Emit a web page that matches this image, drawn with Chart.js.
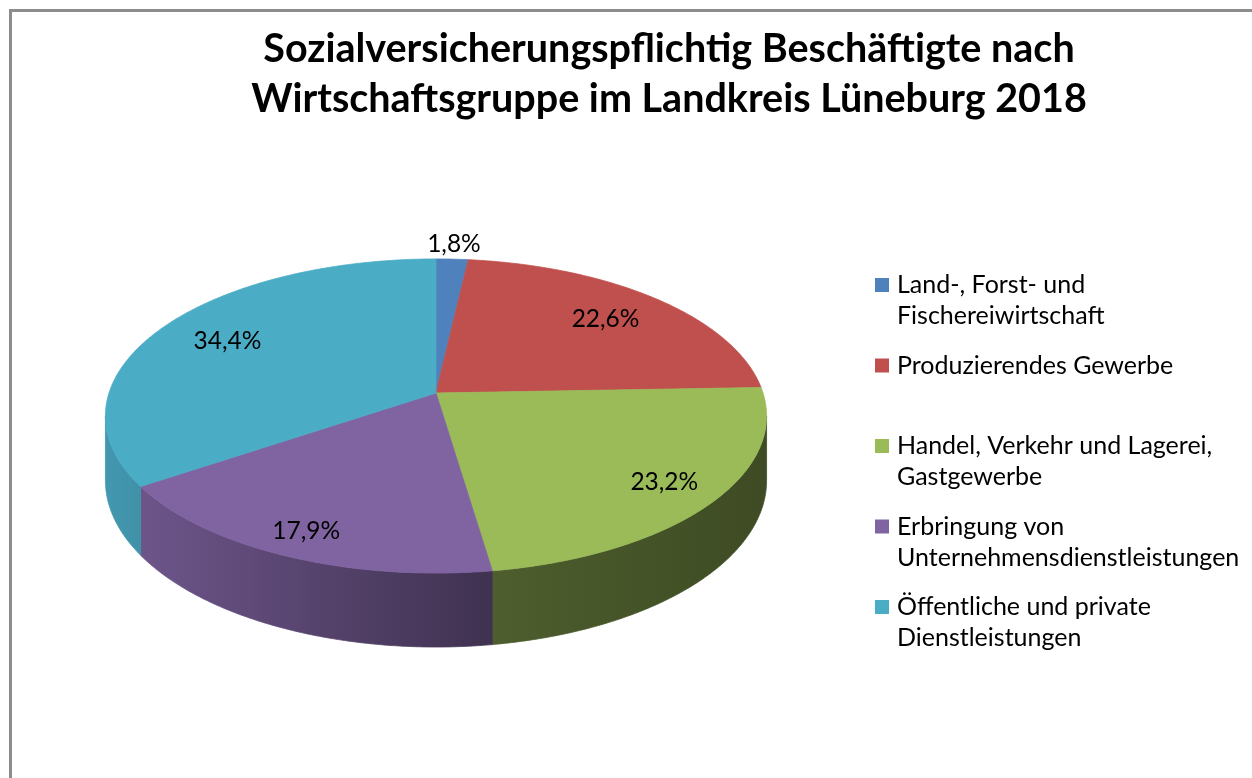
<!DOCTYPE html>
<html lang="de">
  <head>
    <meta charset="utf-8" />
    <title>Beschäftigte nach Wirtschaftsgruppe, Landkreis Lüneburg 2018</title>
    <style>
      * {
        margin: 0;
        padding: 0;
      }
      html,
      body {
        width: 1252px;
        height: 778px;
        overflow: hidden;
        background: #fff;
      }
      .chartBox {
        position: absolute;
        left: 9px;
        top: 9px;
        width: 1314px;
        height: 800px;
        border-left: 3px solid #8c8c8c;
        border-top: 3px solid #8c8c8c;
        background: #fff;
      }
      .chartTitle {
        position: absolute;
        left: 0;
        top: 10px;
        width: 1314px;
        text-align: center;
        font-family: Lato, "Open Sans", sans-serif;
        font-weight: bold;
        font-size: 39.5px;
        line-height: 50px;
        color: #000;
      }
      canvas {
        position: absolute;
        left: 0;
        top: 0;
      }
    </style>
  </head>
  <body>
    <div class="chartBox">
      <canvas id="myChart" width="1314" height="800"></canvas>
      <div class="chartTitle" id="chartTitle"></div>
    </div>

    <script src="https://cdn.jsdelivr.net/npm/chart.js"></script>

    <script>
      // data
      const titleLines = [
        "Sozialversicherungspflichtig Beschäftigte nach",
        "Wirtschaftsgruppe im Landkreis Lüneburg 2018",
      ];
      const categories = [
        ["Land-, Forst- und", "Fischereiwirtschaft"],
        ["Produzierendes Gewerbe"],
        ["Handel, Verkehr und Lagerei,", "Gastgewerbe"],
        ["Erbringung von", "Unternehmensdienstleistungen"],
        ["Öffentliche und private", "Dienstleistungen"],
      ];
      const shares = [1.8, 22.6, 23.2, 17.9, 34.4];
      const colors = ["#4F81BD", "#C0504D", "#9BBB59", "#8064A2", "#4BACC6"];

      document.getElementById("chartTitle").innerHTML = titleLines.join("<br>");

      const FONT = "Lato, 'Open Sans', sans-serif";
      // tilt of the pie: vertical squash, perspective strength, wall height
      const view = { ry: 0.47, persp: 0.1465, depth: 0.193 };
      const legendBox = { x: 863, y: 273, pitch: 80.5, line: 31, box: 14 };

      function shade(hex, f) {
        const n = parseInt(hex.slice(1), 16);
        const r = Math.round(((n >> 16) & 255) * f);
        const g = Math.round(((n >> 8) & 255) * f);
        const b = Math.round((n & 255) * f);
        return `rgb(${r},${g},${b})`;
      }

      // maps (angle, radius fraction, wall level) of the pie onto the canvas
      function projector(chart) {
        const arc = chart.getDatasetMeta(0).data[0];
        const a = (chart.chartArea.right - chart.chartArea.left) / 2;
        const b = a * view.ry;
        const h = a * view.depth;
        return (ang, r = 1, z = 0) => {
          const d = 1 - view.persp * r * Math.sin(ang);
          return {
            x: arc.x + (a * r * Math.cos(ang)) / d,
            y: arc.y + (b * r * Math.sin(ang) + h * z) / d,
          };
        };
      }

      function rimPath(ctx, P, from, to, z, move) {
        const steps = Math.max(2, Math.ceil(Math.abs(to - from) / (Math.PI / 360)));
        for (let j = 0; j <= steps; j++) {
          const p = P(from + ((to - from) * j) / steps, 1, z);
          if (j === 0 && move) ctx.moveTo(p.x, p.y);
          else ctx.lineTo(p.x, p.y);
        }
      }

      const pie3d = {
        id: "pie3d",
        beforeDatasetsDraw(chart) {
          const ctx = chart.ctx;
          const meta = chart.getDatasetMeta(0);
          const P = projector(chart);
          const { left, right } = chart.chartArea;
          ctx.save();
          // side walls, only the front part of the rim shows
          const v0 = Math.asin(view.persp);
          const v1 = Math.PI - v0;
          meta.data.forEach((el, i) => {
            const s = Math.max(el.startAngle, v0);
            const e = Math.min(el.endAngle, v1);
            if (e <= s) return;
            ctx.beginPath();
            rimPath(ctx, P, s, e, 0, true);
            rimPath(ctx, P, e, s, 1, false);
            ctx.closePath();
            const g = ctx.createLinearGradient(left, 0, right, 0);
            g.addColorStop(0, shade(colors[i], 0.88));
            g.addColorStop(0.58, shade(colors[i], 0.5));
            g.addColorStop(1, shade(colors[i], 0.4));
            ctx.fillStyle = g;
            ctx.fill();
            ctx.strokeStyle = g;
            ctx.lineWidth = 0.8;
            ctx.stroke();
          });
          // top faces
          const c = P(0, 0);
          meta.data.forEach((el, i) => {
            ctx.beginPath();
            ctx.moveTo(c.x, c.y);
            rimPath(ctx, P, el.startAngle, el.endAngle, 0, false);
            ctx.closePath();
            ctx.fillStyle = colors[i];
            ctx.fill();
            ctx.strokeStyle = colors[i];
            ctx.lineWidth = 0.8;
            ctx.stroke();
          });
          ctx.restore();
          return false;
        },
        afterDraw(chart) {
          const ctx = chart.ctx;
          const meta = chart.getDatasetMeta(0);
          const P = projector(chart);
          ctx.save();
          ctx.textBaseline = "middle";
          ctx.fillStyle = "#000";
          // percentage labels
          ctx.font = `24.5px ${FONT}`;
          ctx.textAlign = "center";
          meta.data.forEach((el, i) => {
            const mid = (el.startAngle + el.endAngle) / 2;
            const r = shares[i] < 5 ? 1.13 : 0.76 + 0.12 * Math.max(0, Math.sin(mid));
            const p = P(mid, r);
            ctx.fillText(shares[i].toFixed(1).replace(".", ",") + "%", p.x, p.y);
          });
          // legend
          ctx.font = `25px ${FONT}`;
          ctx.textAlign = "left";
          categories.forEach((lines, i) => {
            const y0 = legendBox.y + i * legendBox.pitch;
            ctx.fillStyle = colors[i];
            ctx.fillRect(legendBox.x, y0 - legendBox.box / 2, legendBox.box, legendBox.box);
            ctx.fillStyle = "#000";
            lines.forEach((t, j) => {
              ctx.fillText(t, legendBox.x + legendBox.box + 8, y0 + j * legendBox.line);
            });
          });
          ctx.restore();
        },
      };

      const config = {
        type: "pie",
        data: {
          labels: categories,
          datasets: [
            {
              data: shares,
              backgroundColor: colors,
              borderWidth: 0,
            },
          ],
        },
        options: {
          responsive: false,
          animation: false,
          events: [],
          layout: {
            padding: { left: 97, right: 563, top: 110, bottom: 148 },
          },
          plugins: {
            legend: { display: false },
            tooltip: { enabled: false },
          },
        },
        plugins: [pie3d],
      };

      const myChart = new Chart(document.getElementById("myChart"), config);
    </script>
  </body>
</html>
